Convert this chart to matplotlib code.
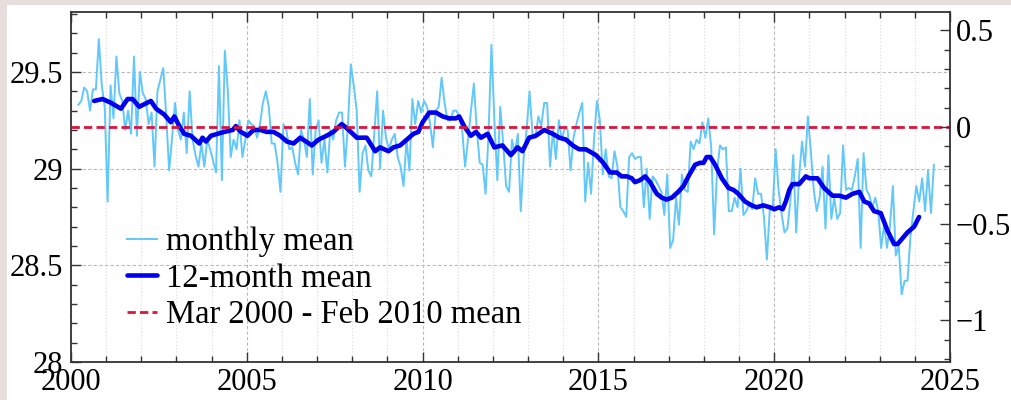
import numpy as np
import matplotlib
matplotlib.use("Agg")
import matplotlib.pyplot as plt
from matplotlib.ticker import MultipleLocator, FormatStrFormatter
from matplotlib.patches import Rectangle

plt.rcParams['font.family'] = ['Liberation Serif', 'DejaVu Serif']

# monthly means, Mar 2000 .. Jul 2024
monthly_2000_2004 = [29.33, 29.35, 29.42, 29.40, 29.30, 29.41, 29.41, 29.67, 29.43, 29.32,
                     28.83, 29.43, 29.26, 29.58, 29.39, 29.35, 29.20, 29.30, 29.18, 29.58, 29.17, 29.50,
                     29.39, 29.36, 29.23, 29.29, 29.01, 29.40, 29.46, 29.52, 29.27, 28.99, 29.16, 29.34,
                     29.20, 29.15, 29.29, 29.08, 29.40, 29.15, 29.07, 29.01, 29.13, 29.01, 29.15, 29.10,
                     29.04, 28.98, 29.53, 28.94, 29.61, 29.41, 29.06, 29.15, 29.10, 29.25, 29.06, 29.15]
monthly_2005_2009 = [29.25, 29.23, 29.22, 29.16, 29.23, 29.34, 29.40, 29.32, 29.13, 29.13, 29.03, 28.88,
                     29.23, 29.20, 29.10, 29.11, 29.03, 28.97, 29.20, 29.15, 29.06, 29.36, 28.97, 29.20,
                     29.25, 29.03, 29.15, 28.98, 29.20, 29.15, 29.25, 29.29, 29.29, 29.01, 29.22, 29.54,
                     29.43, 29.30, 28.88, 29.08, 29.12, 28.99, 28.96, 29.18, 29.40, 29.00, 29.30, 29.16,
                     29.10, 29.15, 29.18, 29.06, 29.01, 28.91, 29.15, 28.99, 29.36, 29.23, 29.35, 29.29]
monthly_2010_2014 = [29.35, 29.32, 29.24, 29.11, 29.30, 29.32, 29.47, 29.34, 29.25, 29.25, 29.30, 29.30,
                     29.27, 29.20, 29.01, 29.15, 29.30, 29.44, 29.20, 29.03, 29.02, 28.87, 29.18, 29.64,
                     29.25, 28.94, 29.32, 29.13, 28.91, 28.88, 29.15, 29.08, 29.18, 28.78, 29.06, 29.20,
                     29.40, 29.18, 29.16, 29.27, 29.22, 29.34, 29.34, 29.01, 29.20, 29.05, 29.25, 29.15,
                     29.21, 29.20, 28.99, 29.16, 29.23, 29.29, 29.34, 28.83, 29.03, 28.87, 29.15, 29.35]
monthly_2015_2019 = [29.25, 28.97, 29.10, 28.96, 28.95, 29.09, 29.01, 28.80, 28.78, 28.75, 29.06, 29.08,
                     29.05, 29.06, 29.06, 28.80, 29.00, 28.74, 28.96, 28.94, 28.91, 28.88, 28.76, 28.97,
                     28.59, 28.63, 28.85, 28.71, 28.97, 28.89, 28.88, 29.14, 29.10, 29.15, 29.13, 29.24,
                     29.16, 29.26, 29.11, 28.66, 28.99, 29.12, 29.10, 29.11, 28.78, 28.78, 28.85, 28.80,
                     29.00, 28.76, 28.78, 28.82, 28.79, 28.95, 28.87, 28.87, 28.75, 28.53, 28.79, 28.80]
monthly_2020_2024 = [29.10, 28.89, 28.77, 28.67, 28.69, 28.83, 29.07, 28.67, 28.96, 29.14, 29.01, 29.27,
                     29.09, 28.89, 28.78, 28.85, 29.01, 28.69, 29.07, 28.74, 28.85, 28.74, 28.77, 29.12,
                     28.89, 28.90, 28.89, 28.96, 29.05, 28.59, 29.08, 28.89, 28.86, 28.80, 28.85, 28.78,
                     28.59, 28.71, 28.59, 28.70, 28.91, 28.55, 28.60, 28.35, 28.42, 28.42, 28.65, 28.78,
                     28.91, 28.83, 28.95, 28.78, 28.99, 28.77, 29.02]

# 12-month (centred) mean
smooth_years = [2000.66, 2000.90, 2001.14, 2001.42, 2001.61, 2001.75, 2001.94, 2002.27, 2002.42, 2002.65,
                2002.84, 2002.94, 2003.08, 2003.22, 2003.41, 2003.65, 2003.74, 2003.84, 2003.98, 2004.17,
                2004.36, 2004.60, 2004.69, 2004.83, 2005.02, 2005.19, 2005.38, 2005.57, 2005.76, 2005.95,
                2006.14, 2006.33, 2006.52, 2006.85, 2007.04, 2007.27, 2007.46, 2007.70, 2007.84, 2008.13,
                2008.41, 2008.65, 2008.79, 2009.03, 2009.17, 2009.36, 2009.55, 2009.74, 2009.88, 2010.00,
                2010.19, 2010.38, 2010.57, 2010.76, 2010.95, 2011.04, 2011.18, 2011.37, 2011.52, 2011.66,
                2011.85, 2012.04, 2012.27, 2012.51, 2012.70, 2012.84, 2013.03, 2013.22, 2013.46, 2013.70,
                2013.89, 2014.08, 2014.27, 2014.45, 2014.64, 2014.74, 2014.93, 2015.14, 2015.33, 2015.52,
                2015.66, 2015.81, 2015.95, 2016.04, 2016.18, 2016.33, 2016.47, 2016.66, 2016.80, 2016.94,
                2017.09, 2017.27, 2017.42, 2017.56, 2017.75, 2017.89, 2017.99, 2018.08, 2018.18, 2018.32,
                2018.51, 2018.70, 2018.84, 2018.98, 2019.17, 2019.36, 2019.50, 2019.69, 2019.88, 2020.00,
                2020.14, 2020.24, 2020.33, 2020.43, 2020.52, 2020.71, 2020.90, 2021.00, 2021.23, 2021.42,
                2021.66, 2021.85, 2022.04, 2022.23, 2022.42, 2022.56, 2022.70, 2022.84, 2023.03, 2023.22,
                2023.41, 2023.51, 2023.65, 2023.79, 2023.98, 2024.12]
smooth_vals = [29.35, 29.36, 29.34, 29.31, 29.36, 29.36, 29.32, 29.35, 29.31, 29.28,
               29.24, 29.27, 29.22, 29.18, 29.17, 29.13, 29.16, 29.14, 29.17, 29.18,
               29.19, 29.20, 29.22, 29.19, 29.17, 29.20, 29.20, 29.19, 29.19, 29.17,
               29.14, 29.13, 29.16, 29.12, 29.15, 29.17, 29.19, 29.23, 29.21, 29.16,
               29.16, 29.09, 29.11, 29.09, 29.11, 29.12, 29.15, 29.18, 29.19, 29.24,
               29.29, 29.29, 29.27, 29.26, 29.26, 29.27, 29.22, 29.17, 29.19, 29.16,
               29.18, 29.11, 29.12, 29.07, 29.11, 29.09, 29.16, 29.17, 29.20, 29.18,
               29.16, 29.15, 29.12, 29.10, 29.10, 29.09, 29.07, 29.03, 28.98, 28.98,
               28.96, 28.96, 28.95, 28.93, 28.94, 28.96, 28.93, 28.87, 28.85, 28.84,
               28.85, 28.88, 28.91, 28.96, 29.02, 29.03, 29.03, 29.06, 29.06, 29.02,
               28.95, 28.90, 28.89, 28.87, 28.83, 28.81, 28.80, 28.81, 28.80, 28.79,
               28.80, 28.79, 28.83, 28.89, 28.92, 28.92, 28.96, 28.95, 28.95, 28.90,
               28.86, 28.86, 28.85, 28.87, 28.88, 28.83, 28.82, 28.78, 28.77, 28.68,
               28.61, 28.61, 28.64, 28.67, 28.70, 28.75]

base_mean = 29.215   # Mar 2000 - Feb 2010 mean
labels = ['monthly mean', '12-month mean', 'Mar 2000 - Feb 2010 mean']

monthly = monthly_2000_2004 + monthly_2005_2009 + monthly_2010_2014 + monthly_2015_2019 + monthly_2020_2024
# month centres, first month is March 2000
t = 2000 + (np.arange(len(monthly)) + 2.5) / 12.0

fig = plt.figure(figsize=(10.11, 4.0), dpi=100)
fig.patch.set_facecolor('#e8dedc')
# white panel, leaves a thin tinted strip on the left and top
fig.patches.append(Rectangle((7 / 1011, 0), 1, 395 / 400, transform=fig.transFigure,
                             facecolor='white', edgecolor='none', zorder=-10))

ax = fig.add_axes([71 / 1011, 38 / 400, 879 / 1011, 350 / 400])
ax.set_facecolor('white')

ax.plot(t, monthly, color='#62c8fa', lw=1.4, label=labels[0], zorder=3)
ax.plot(smooth_years, smooth_vals, color='#0000ee', lw=3.3, label=labels[1], zorder=4,
        solid_joinstyle='round', solid_capstyle='round')
ax.axhline(base_mean, color='#dc143c', lw=2.0, ls=(0, (3, 1.5)), label=labels[2], zorder=5)

ylo, yhi = 28.0, 29.81
ax.set_xlim(2000, 2025)
ax.set_ylim(ylo, yhi)

ax.xaxis.set_major_locator(MultipleLocator(5))
ax.xaxis.set_minor_locator(MultipleLocator(1))
ax.yaxis.set_major_locator(MultipleLocator(0.5))
ax.yaxis.set_minor_locator(MultipleLocator(0.1))
ax.yaxis.set_major_formatter(FormatStrFormatter('%g'))

ax.grid(which='major', axis='both', color='#bbbbbb', lw=0.8, ls=(0, (3, 2)))
ax.grid(which='minor', axis='x', color='#dadada', lw=0.8, ls=(0, (1, 2)))
ax.set_axisbelow(True)

ax.tick_params(which='both', direction='in', top=True, right=False, labelsize=22, color='#333333')
ax.tick_params(which='major', length=7, width=1)
ax.tick_params(which='minor', length=4, width=1)
ax.tick_params(axis='y', pad=6)
ax.tick_params(axis='x', pad=4)

for s in ax.spines.values():
    s.set_color('#333333')
    s.set_linewidth(1.3)

# right axis: anomaly relative to the base mean
ax2 = ax.twinx()
ax2.set_ylim(ylo - base_mean, yhi - base_mean)
ax2.yaxis.set_major_locator(MultipleLocator(0.5))
ax2.yaxis.set_minor_locator(MultipleLocator(0.1))
ax2.yaxis.set_major_formatter(plt.FuncFormatter(lambda v, p: ('%g' % v).replace('-', '\u2212')))
ax2.tick_params(which='both', direction='in', labelsize=22, color='#333333', pad=4)
ax2.tick_params(which='major', length=7, width=1)
ax2.tick_params(which='minor', length=4, width=1)
for s in ax2.spines.values():
    s.set_visible(False)

leg = ax.legend(loc='lower left', bbox_to_anchor=(0.064, 0.091), frameon=False, fontsize=23.5,
                handlelength=0.9, handletextpad=0.3, labelspacing=0.18, borderaxespad=0,
                borderpad=0)

fig.savefig('out.png', dpi=100, facecolor=fig.get_facecolor())
